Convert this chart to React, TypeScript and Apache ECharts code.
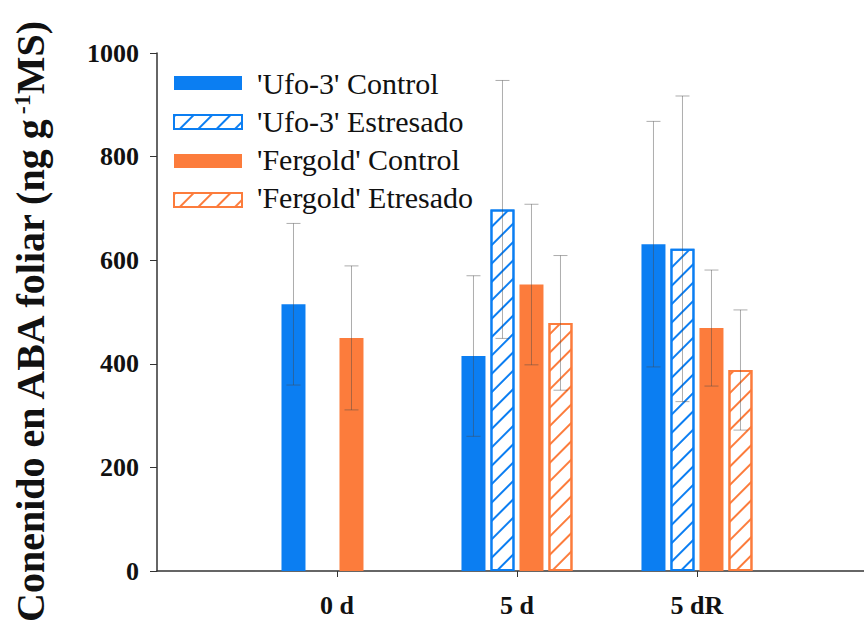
import React, { useEffect, useRef } from "react";
import * as echarts from "echarts";

const categories = ["0 d", "5 d", "5 dR"];
const seriesNames = ["'Ufo-3' Control", "'Ufo-3' Estresado", "'Fergold' Control", "'Fergold' Etresado"];
const ufoControl = [515, 415, 631];
const ufoControlErr = [156, 155, 237];
const ufoStress = [null, 698, 622];
const ufoStressErr = [null, 249, 295];
const fergControl = [450, 553, 469];
const fergControlErr = [139, 155, 112];
const fergStress = [null, 479, 388];
const fergStressErr = [null, 130, 116];
const yTicks = [0, 200, 400, 600, 800, 1000];

const BLUE = "#0b7ef2";
const ORANGE = "#fc7c3c";
const FONT = "Liberation Serif";
const LEGEND_FONT = "'Liberation Serif', 'DejaVu Serif', serif";
const BAR_W = 24;
const BAR_STEP = 29;

const LEGEND_LEFT = 173;
const LEGEND_TOP = 76;
const LEGEND_ICON_W = 68;
const LEGEND_ICON_H = 14;
const LEGEND_ROW = 38;

export default function App() {
  const ref = useRef<HTMLDivElement>(null);
  useEffect(() => {
    if (!ref.current) return;
    const chart = echarts.init(ref.current, null, { renderer: "svg" });
    const values = [ufoControl, ufoStress, fergControl, fergStress];
    const errs = [ufoControlErr, ufoStressErr, fergControlErr, fergStressErr];
    const colors = [BLUE, BLUE, ORANGE, ORANGE];
    const hatched = [false, true, false, true];

    const barSeries = values.map((vals, s) => ({
      type: "bar",
      name: seriesNames[s],
      barWidth: BAR_W,
      barGap: `${(100 * (BAR_STEP - BAR_W)) / BAR_W}%`,
      data: vals.map((v, i) => (v == null ? null : [i + 1, v])),
      itemStyle: hatched[s]
        ? {
            color: "#ffffff",
            borderColor: colors[s],
            borderWidth: 2,
            decal: {
              symbol: "rect",
              symbolSize: 1,
              color: colors[s],
              dashArrayX: [1, 0],
              dashArrayY: [2, 11],
              rotation: -Math.PI / 4,
            },
          }
        : { color: colors[s] },
      z: 2,
    }));

    const errData: any[] = [];
    values.forEach((vals, s) => {
      vals.forEach((v, i) => {
        if (v != null && errs[s][i] != null) errData.push([i + 1, v, errs[s][i], s]);
      });
    });

    const errSeries = {
      type: "custom",
      data: errData,
      z: 5,
      silent: true,
      encode: { x: 0, y: 1 },
      renderItem: (params: any, api: any) => {
        const x = api.value(0);
        const v = api.value(1);
        const e = api.value(2);
        const s = api.value(3);
        const off = (s - 1.5) * BAR_STEP;
        const top = api.coord([x, v + e]);
        const bot = api.coord([x, v - e]);
        const cx = top[0] + off;
        const cap = 7;
        const st = { stroke: "rgba(70,70,70,0.45)", lineWidth: 1 };
        return {
          type: "group",
          children: [
            { type: "line", shape: { x1: cx, y1: top[1], x2: cx, y2: bot[1] }, style: st },
            { type: "line", shape: { x1: cx - cap, y1: top[1], x2: cx + cap, y2: top[1] }, style: st },
            { type: "line", shape: { x1: cx - cap, y1: bot[1], x2: cx + cap, y2: bot[1] }, style: st },
          ],
        };
      },
    };

    const legendTexts = seriesNames.map((n, i) => ({
      type: "text",
      x: LEGEND_LEFT + LEGEND_ICON_W + 16,
      y: LEGEND_TOP + LEGEND_ICON_H / 2 + i * LEGEND_ROW,
      silent: true,
      style: {
        text: n,
        fontFamily: LEGEND_FONT,
        fontSize: 30,
        fontWeight: "normal",
        fontStyle: "normal",
        fill: "#111",
        align: "left",
        verticalAlign: "middle",
      },
    }));

    chart.setOption({
      animation: false,
      backgroundColor: "#ffffff",
      textStyle: { fontFamily: FONT },
      grid: { left: 157, top: 53, right: 0, height: 518, containLabel: false },
      legend: {
        orient: "vertical",
        left: LEGEND_LEFT,
        top: LEGEND_TOP,
        data: seriesNames.map((n) => ({ name: n, icon: "rect" })),
        formatter: () => "",
        itemWidth: LEGEND_ICON_W,
        itemHeight: LEGEND_ICON_H,
        itemGap: LEGEND_ROW - LEGEND_ICON_H,
        padding: 0,
        selectedMode: false,
      },
      xAxis: {
        type: "value",
        min: 0,
        max: 3.928,
        interval: 1,
        splitLine: { show: false },
        axisLine: { show: true, lineStyle: { color: "#333", width: 1.5 } },
        axisTick: { show: true, customValues: [1, 2, 3], length: 6, lineStyle: { color: "#333" } },
        axisLabel: {
          customValues: [1, 2, 3],
          formatter: (v: number) => categories[v - 1] ?? "",
          fontFamily: FONT,
          fontWeight: "bold",
          fontSize: 26,
          color: "#111",
          margin: 21,
        },
      },
      yAxis: {
        type: "value",
        min: 0,
        max: 1000,
        interval: 200,
        splitLine: { show: false },
        axisLine: { show: true, lineStyle: { color: "#333", width: 1.5 } },
        axisTick: { show: true, length: 7, lineStyle: { color: "#333" } },
        axisLabel: {
          formatter: (v: number) => (yTicks.includes(v) ? String(v) : ""),
          fontFamily: FONT,
          fontWeight: "bold",
          fontSize: 26,
          color: "#111",
          margin: 18,
        },
      },
      graphic: [
        ...legendTexts,
        {
          type: "text",
          x: 30,
          y: 622,
          rotation: Math.PI / 2,
          style: {
            text: "Conenido en ABA foliar (ng g{sup|-1}MS)",
            font: `bold 40px ${FONT}`,
            fill: "#111",
            align: "left",
            verticalAlign: "middle",
            rich: {
              sup: { fontFamily: FONT, fontWeight: "bold", fontSize: 24, verticalAlign: "top", padding: [0, 0, 14, 0], fill: "#111" },
            },
          },
        },
      ],
      series: [...barSeries, errSeries],
    });
    return () => chart.dispose();
  }, []);
  return <div ref={ref} style={{ width: 864, height: 628, position: "absolute", left: 0, top: 0 }} />;
}
